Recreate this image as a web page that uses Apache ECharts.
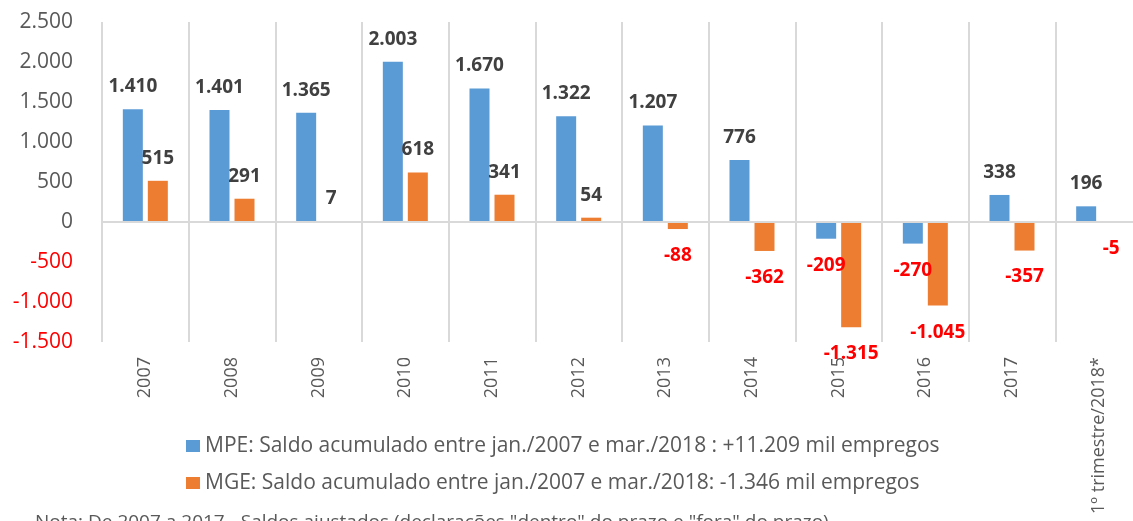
<!DOCTYPE html>
<html>
<head>
<meta charset="utf-8">
<script src="https://cdn.jsdelivr.net/npm/echarts@6/dist/echarts.min.js"></script>
<style>
  html, body { margin: 0; padding: 0; background: #fff; overflow: hidden; }
  /* mais largo que a janela: a última categoria é cortada à direita como no original */
  #chart { width: 1160px; height: 521px; }
</style>
</head>
<body>
<div id="chart"></div>
<script>
// dados (mil empregos)
const categorias = ["2007", "2008", "2009", "2010", "2011", "2012", "2013", "2014", "2015", "2016", "2017", "1º trimestre/2018*"];
const mpe = [1410, 1401, 1365, 2003, 1670, 1322, 1207, 776, -209, -270, 338, 196];
const mge = [515, 291, 7, 618, 341, 54, -88, -362, -1315, -1045, -357, -5];
const nomeMpe = "MPE: Saldo acumulado entre jan./2007 e mar./2018 : +11.209 mil empregos";
const nomeMge = "MGE: Saldo acumulado entre jan./2007 e mar./2018: -1.346 mil empregos";
const nota = "Nota: De 2007 a 2017 - Saldos ajustados (declarações \"dentro\" do prazo e \"fora\" do prazo)";

const FONT = "'Open Sans', sans-serif";

//separador de milhar com ponto
function fmt(v) {
  const s = Math.abs(v).toString().replace(/\B(?=(\d{3})+(?!\d))/g, ".");
  return (v < 0 ? "-" : "") + s;
}

//label acima (positivo) ou abaixo (negativo) da barra
function comLabel(arr) {
  return arr.map(v => ({
    value: v,
    label: v < 0
      ? { position: "bottom", distance: 17, color: "#FF0000" }
      : { position: "top", distance: 13, color: "#404040" }
  }));
}

const labelBase = {
  show: true,
  fontFamily: FONT,
  fontSize: 19,
  fontWeight: "bold",
  formatter: p => fmt(p.value)
};

const chart = echarts.init(document.getElementById("chart"));
chart.setOption({
  animation: false,
  grid: { left: 102, top: 22, width: 1040, height: 320, containLabel: false },
  legend: {
    orient: "vertical",
    left: 181,
    top: 430,
    itemWidth: 14,
    itemHeight: 12,
    itemGap: 15,
    icon: "rect",
    textStyle: { fontFamily: FONT, fontSize: 21, color: "#595959", lineHeight: 22 },
    data: [nomeMpe, nomeMge]
  },
  xAxis: {
    type: "category",
    data: categorias,
    axisLine: { show: false },
    axisTick: { show: false },
    splitLine: { show: true, interval: 0, lineStyle: { color: "#d9d9d9", width: 2 } },
    axisLabel: {
      interval: 0,
      rotate: 90,
      margin: 15,
      fontFamily: FONT,
      fontSize: 18,
      color: "#595959"
    }
  },
  yAxis: {
    type: "value",
    min: -1500,
    max: 2500,
    interval: 500,
    axisLine: { show: false },
    axisTick: { show: false },
    splitLine: { show: false },
    axisLabel: {
      margin: 29,
      fontFamily: FONT,
      fontSize: 21,
      formatter: v => fmt(v),
      color: v => (v < 0 ? "#FF0000" : "#595959")
    }
  },
  graphic: [
    {
      //nota de rodapé, cortada na borda inferior
      type: "text",
      left: 35,
      top: 513,
      style: { text: nota, fontFamily: FONT, fontSize: 19, fill: "#595959" }
    }
  ],
  series: [
    {
      name: nomeMpe,
      type: "bar",
      barWidth: 20,
      barGap: "25%",
      itemStyle: { color: "#5B9BD5" },
      label: labelBase,
      data: comLabel(mpe),
      //linha do zero
      markLine: {
        silent: true,
        symbol: ["none", "none"],
        label: { show: false },
        lineStyle: { color: "#d9d9d9", width: 2, type: "solid" },
        data: [{ yAxis: 0 }]
      }
    },
    {
      name: nomeMge,
      type: "bar",
      barWidth: 20,
      itemStyle: { color: "#ED7D31" },
      label: labelBase,
      data: comLabel(mge)
    }
  ]
});
</script>
</body>
</html>
